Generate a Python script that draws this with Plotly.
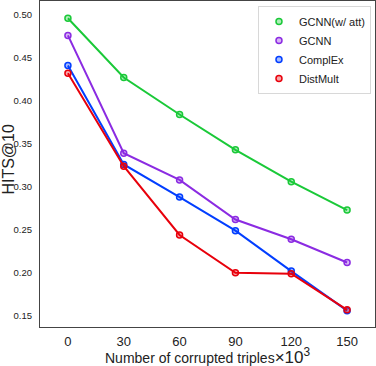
import plotly.graph_objects as go

x_vals = [0, 30, 60, 90, 120, 150]
series_names = ["GCNN(w/ att)", "GCNN", "ComplEx", "DistMult"]
gcnn_att = [0.496, 0.427, 0.384, 0.343, 0.306, 0.273]
gcnn = [0.476, 0.339, 0.308, 0.262, 0.239, 0.212]
complex_ = [0.441, 0.326, 0.288, 0.249, 0.202, 0.156]
distmult = [0.432, 0.324, 0.244, 0.200, 0.199, 0.157]
y_ticks = [0.15, 0.20, 0.25, 0.30, 0.35, 0.40, 0.45, 0.50]
colors = ["#1ac938", "#8b2be2", "#023eff", "#e8000b"]
fills = ["rgba(26,201,56,0.35)", "rgba(139,43,226,0.35)", "rgba(2,62,255,0.35)", "rgba(232,0,11,0.35)"]

fig = go.Figure()
for name, ys, c, f in zip(series_names, [gcnn_att, gcnn, complex_, distmult], colors, fills):
    fig.add_trace(go.Scatter(
        x=x_vals, y=ys, name=name, mode="lines+markers", showlegend=False,
        line=dict(color=c, width=2),
        marker=dict(symbol="circle", size=6, color=f, line=dict(color=c, width=1.5)),
    ))
# legend entries (marker only, like the reference)
for name, c, f in zip(series_names, colors, fills):
    fig.add_trace(go.Scatter(
        x=[None], y=[None], name=name, mode="markers", showlegend=True,
        marker=dict(symbol="circle", size=6, color=f, line=dict(color=c, width=1.5)),
    ))

fig.update_layout(
    width=376, height=366,
    margin=dict(l=40, r=1, t=1, b=39, autoexpand=False),
    paper_bgcolor="white", plot_bgcolor="white",
    font=dict(family="Liberation Sans, Arial, sans-serif", color="#222"),
    showlegend=True,
    legend=dict(
        x=0.988, y=0.985, xanchor="right", yanchor="top",
        bgcolor="white", bordercolor="#d8d8d8", borderwidth=1,
        font=dict(size=11, color="#222"),
        itemwidth=30, tracegroupgap=0,
    ),
    xaxis=dict(
        range=[-15, 165], tickvals=x_vals, ticktext=[str(v) for v in x_vals],
        showgrid=False, zeroline=False, showline=True, mirror=True, automargin=False,
        linecolor="#444", linewidth=1.2, ticks="", ticklabelstandoff=2,
        tickfont=dict(size=13, color="#222"),
    ),
    yaxis=dict(
        range=[0.137, 0.516], tickvals=y_ticks, ticktext=[f"{v:.2f}" for v in y_ticks],
        showgrid=False, zeroline=False, showline=True, mirror=True, automargin=False,
        linecolor="#444", linewidth=1.2, ticks="", ticklabelstandoff=5,
        tickfont=dict(size=9.5, color="#222"),
    ),
    annotations=[
        dict(text="Number of corrupted triples<span style='font-size:17px'>×10<sup>3</sup></span>",
             xref="paper", yref="paper",
             x=0.5, y=-0.089, xanchor="center", yanchor="middle", showarrow=False,
             font=dict(size=14, color="#222")),
        dict(text="HITS@10", xref="paper", yref="paper", x=-0.094, y=0.515, textangle=-90,
             xanchor="center", yanchor="middle", showarrow=False,
             font=dict(size=16, color="#222")),
    ],
)

fig.write_html("out.html", config={"displayModeBar": False},
               post_script="document.body.style.margin='0';document.body.style.padding='0';")
